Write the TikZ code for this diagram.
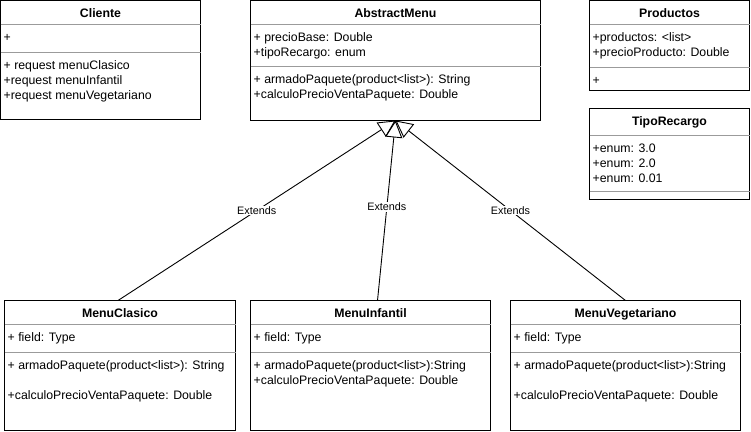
\documentclass[tikz,border=0pt]{standalone}
\usepackage{fontspec}
\setmainfont{Liberation Sans}
\usetikzlibrary{calc,arrows.meta}
\definecolor{divgray}{RGB}{155,155,155}
\tikzset{
  umlbox/.style={draw=black, line width=1pt, anchor=north west, inner sep=0pt, outer sep=0pt, fill=white},
  divline/.style={draw=divgray, line width=1pt},
  titletext/.style={anchor=base, inner sep=0pt, font={\fontsize{12.3pt}{15pt}\selectfont\bfseries}},
  member/.style={anchor=base west, inner sep=0pt, font={\fontsize{12.3pt}{15pt}\selectfont}},
  extlabel/.style={fill=white, inner sep=1pt, font={\fontsize{10.8pt}{13pt}\selectfont}},
  extends/.style={draw=black, line width=0.9pt, -{Triangle[open,length=17pt,width=17pt]}}
}
\begin{document}
\begin{tikzpicture}[x=1pt,y=-1pt]
\useasboundingbox (0,0) rectangle (751,431);

% ---------- Cliente ----------
\node[umlbox, minimum width=200pt, minimum height=119pt] (cl) at (0.5,0.5) {};
\draw[divline] ($(cl.north west)+(0,24)$) -- ($(cl.north east)+(0,24)$);
\draw[divline] ($(cl.north west)+(0,52)$) -- ($(cl.north east)+(0,52)$);
\node[titletext] (clt) at ($(cl.north)+(0,17)$) {Cliente};
\node[member] (cla) at ($(cl.north west)+(3,41)$) {+};
\node[member] (clm1) at ($(cl.north west)+(3,69)$) {+ request menuClasico};
\node[member] (clm2) at ($(cl.north west)+(3,84)$) {+request menuInfantil};
\node[member] (clm3) at ($(cl.north west)+(3,99)$) {+request menuVegetariano};

% ---------- AbstractMenu ----------
\node[umlbox, minimum width=290pt, minimum height=120pt] (am) at (250.5,0.5) {};
\draw[divline] ($(am.north west)+(0,24)$) -- ($(am.north east)+(0,24)$);
\draw[divline] ($(am.north west)+(0,66)$) -- ($(am.north east)+(0,66)$);
\node[titletext] (amt) at ($(am.north)+(0,17)$) {AbstractMenu};
\node[member] (ama1) at ($(am.north west)+(3,41)$) {+ precioBase: Double};
\node[member] (ama2) at ($(am.north west)+(3,56)$) {+tipoRecargo: enum};
\node[member] (amm1) at ($(am.north west)+(3,83)$) {+ armadoPaquete(product<list>): String};
\node[member] (amm2) at ($(am.north west)+(3,98)$) {+calculoPrecioVentaPaquete: Double};

% ---------- Productos ----------
\node[umlbox, minimum width=160pt, minimum height=90pt] (pr) at (589.5,0.5) {};
\draw[divline] ($(pr.north west)+(0,24)$) -- ($(pr.north east)+(0,24)$);
\draw[divline] ($(pr.north west)+(0,67)$) -- ($(pr.north east)+(0,67)$);
\node[titletext] (prt) at ($(pr.north)+(0,17)$) {Productos};
\node[member] (pra1) at ($(pr.north west)+(3,41)$) {+productos: <list>};
\node[member] (pra2) at ($(pr.north west)+(3,56)$) {+precioProducto: Double};
\node[member] (prm) at ($(pr.north west)+(3,84)$) {+};

% ---------- TipoRecargo ----------
\node[umlbox, minimum width=160pt, minimum height=91pt] (tr) at (589.5,108.5) {};
\draw[divline] ($(tr.north west)+(0,27)$) -- ($(tr.north east)+(0,27)$);
\draw[divline] ($(tr.north west)+(0,83)$) -- ($(tr.north east)+(0,83)$);
\node[titletext] (trt) at ($(tr.north)+(0,17)$) {TipoRecargo};
\node[member] (tra1) at ($(tr.north west)+(3,44)$) {+enum: 3.0};
\node[member] (tra2) at ($(tr.north west)+(3,59)$) {+enum: 2.0};
\node[member] (tra3) at ($(tr.north west)+(3,74)$) {+enum: 0.01};

% ---------- MenuClasico ----------
\node[umlbox, minimum width=231pt, minimum height=130pt] (mc) at (4.5,300.5) {};
\draw[divline] ($(mc.north west)+(0,24)$) -- ($(mc.north east)+(0,24)$);
\draw[divline] ($(mc.north west)+(0,52)$) -- ($(mc.north east)+(0,52)$);
\node[titletext] (mct) at ($(mc.north)+(0,17)$) {MenuClasico};
\node[member] (mca) at ($(mc.north west)+(3,41)$) {+ field: Type};
\node[member] (mcm1) at ($(mc.north west)+(3,69)$) {+ armadoPaquete(product<list>): String};
\node[member] (mcm2) at ($(mc.north west)+(3,99)$) {+calculoPrecioVentaPaquete: Double};

% ---------- MenuInfantil ----------
\node[umlbox, minimum width=240pt, minimum height=130pt] (mi) at (250.5,300.5) {};
\draw[divline] ($(mi.north west)+(0,24)$) -- ($(mi.north east)+(0,24)$);
\draw[divline] ($(mi.north west)+(0,52)$) -- ($(mi.north east)+(0,52)$);
\node[titletext] (mit) at ($(mi.north)+(0,17)$) {MenuInfantil};
\node[member] (mia) at ($(mi.north west)+(3,41)$) {+ field: Type};
\node[member] (mim1) at ($(mi.north west)+(3,69)$) {+ armadoPaquete(product<list>):String};
\node[member] (mim2) at ($(mi.north west)+(3,84)$) {+calculoPrecioVentaPaquete: Double};

% ---------- MenuVegetariano ----------
\node[umlbox, minimum width=230pt, minimum height=130pt] (mv) at (510.5,300.5) {};
\draw[divline] ($(mv.north west)+(0,24)$) -- ($(mv.north east)+(0,24)$);
\draw[divline] ($(mv.north west)+(0,52)$) -- ($(mv.north east)+(0,52)$);
\node[titletext] (mvt) at ($(mv.north)+(0,17)$) {MenuVegetariano};
\node[member] (mva) at ($(mv.north west)+(3,41)$) {+ field: Type};
\node[member] (mvm1) at ($(mv.north west)+(3,69)$) {+ armadoPaquete(product<list>):String};
\node[member] (mvm2) at ($(mv.north west)+(3,99)$) {+calculoPrecioVentaPaquete: Double};

% ---------- Generalisations ----------
\draw[extends] ([xshift=-2pt]mc.north) -- node[extlabel, pos=0.5] (e1) {Extends} (am.south);
\draw[extends] ([xshift=7pt]mi.north) -- node[extlabel, pos=0.52] (e2) {Extends} (am.south);
\draw[extends] (mv.north) -- node[extlabel, pos=0.5] (e3) {Extends} (am.south);
\end{tikzpicture}
\end{document}
